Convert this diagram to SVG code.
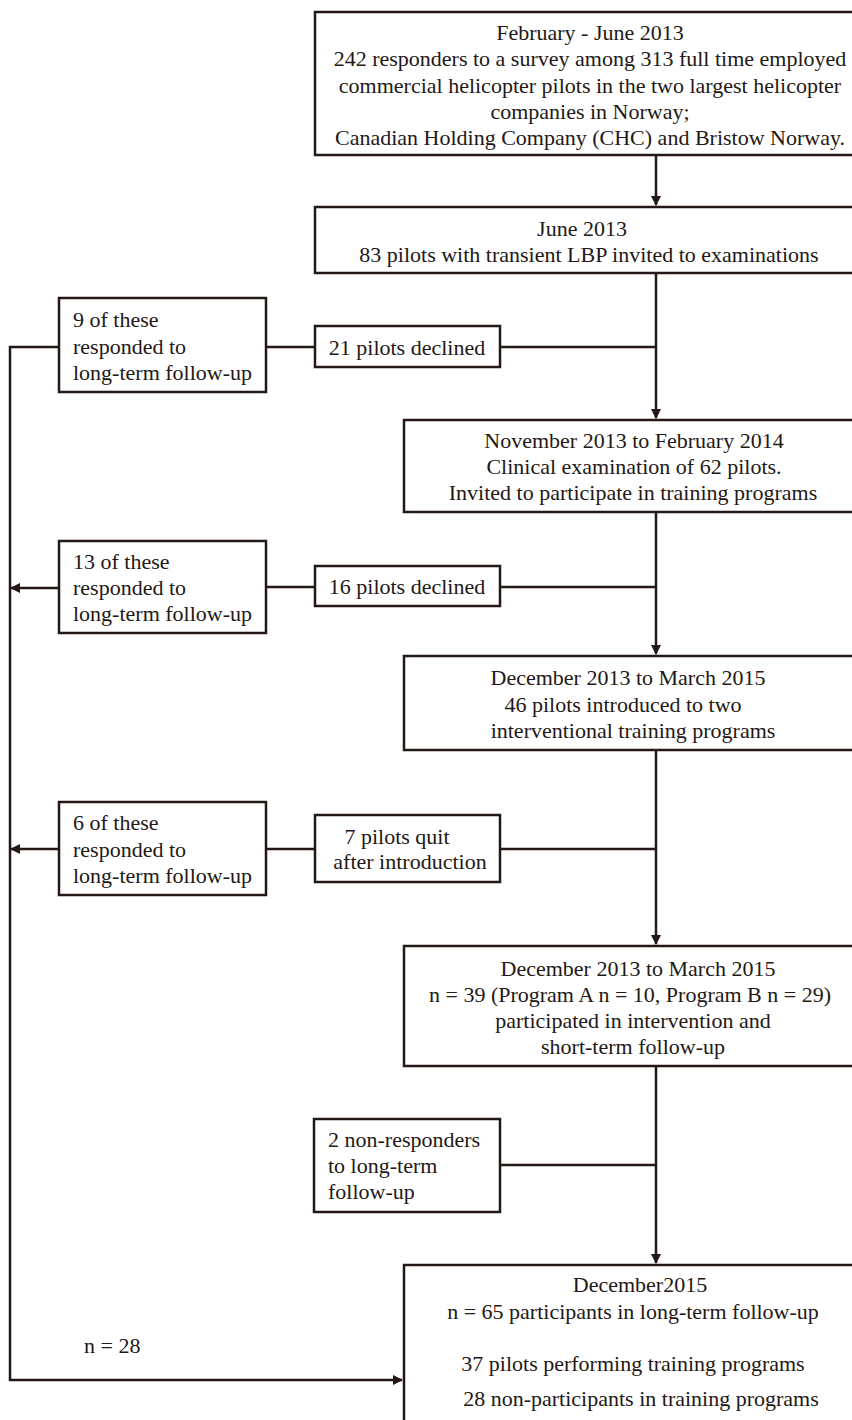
<svg xmlns="http://www.w3.org/2000/svg" width="852" height="1420" viewBox="0 0 852 1420">
<style>
.b{fill:#fff;stroke:#231815;stroke-width:2.5}
.c{fill:none;stroke:#231815;stroke-width:2.5}
text{font-family:"Liberation Serif","Times New Roman",serif;font-size:22px;fill:#231815}
.m{text-anchor:middle}
</style>
<defs>
<marker id="ah" markerWidth="10" markerHeight="10" refX="9" refY="5" orient="auto" markerUnits="userSpaceOnUse">
<path d="M0,0 L10,5 L0,10 Z" fill="#231815"/>
</marker>
</defs>
<rect width="852" height="1420" fill="#fff"/>
<g id="connectors">
<path class="c" d="M656,155 V205" marker-end="url(#ah)"/>
<path class="c" d="M656,273 V418" marker-end="url(#ah)"/>
<path class="c" d="M500,347 H656"/>
<path class="c" d="M266,347 H315"/>
<path class="c" d="M59,347 H10 V1380 H402" marker-end="url(#ah)"/>
<path class="c" d="M656,512 V654" marker-end="url(#ah)"/>
<path class="c" d="M500,587 H656"/>
<path class="c" d="M266,587 H315"/>
<path class="c" d="M59,588 H11" marker-end="url(#ah)"/>
<path class="c" d="M656,750 V944" marker-end="url(#ah)"/>
<path class="c" d="M500,849 H656"/>
<path class="c" d="M266,849 H315"/>
<path class="c" d="M59,849 H11" marker-end="url(#ah)"/>
<path class="c" d="M656,1066 V1263" marker-end="url(#ah)"/>
<path class="c" d="M500,1165 H656"/>
</g>
<g id="n1">
<rect class="b" x="315" y="12" width="560" height="143"/>
<text class="m" x="590" y="40">February - June 2013</text>
<text class="m" x="590" y="66">242 responders to a survey among 313 full time employed</text>
<text class="m" x="590" y="93">commercial helicopter pilots in the two largest helicopter</text>
<text class="m" x="590" y="119">companies in Norway;</text>
<text class="m" x="590" y="145">Canadian Holding Company (CHC) and Bristow Norway.</text>
</g>
<g id="n2">
<rect class="b" x="315" y="207" width="560" height="66"/>
<text class="m" x="582" y="236">June 2013</text>
<text class="m" x="589" y="262">83 pilots with transient LBP invited to examinations</text>
</g>
<g id="n3">
<rect class="b" x="59" y="298" width="207" height="94"/>
<text x="73" y="327">9 of these</text>
<text x="73" y="354">responded to</text>
<text x="73" y="380">long-term follow-up</text>
</g>
<g id="n4">
<rect class="b" x="315" y="326" width="185" height="41"/>
<text class="m" x="407" y="355">21 pilots declined</text>
</g>
<g id="n5">
<rect class="b" x="404" y="420" width="470" height="92"/>
<text class="m" x="634" y="448">November 2013 to February 2014</text>
<text class="m" x="634" y="474">Clinical examination of 62 pilots.</text>
<text class="m" x="633" y="500">Invited to participate in training programs</text>
</g>
<g id="n6">
<rect class="b" x="59" y="541" width="207" height="92"/>
<text x="73" y="569">13 of these</text>
<text x="73" y="595">responded to</text>
<text x="73" y="621">long-term follow-up</text>
</g>
<g id="n7">
<rect class="b" x="315" y="566" width="185" height="40"/>
<text class="m" x="407" y="594">16 pilots declined</text>
</g>
<g id="n8">
<rect class="b" x="404" y="656" width="470" height="94"/>
<text class="m" x="628" y="685">December 2013 to March 2015</text>
<text class="m" x="623" y="712">46 pilots introduced to two</text>
<text class="m" x="633" y="738">interventional training programs</text>
</g>
<g id="n9">
<rect class="b" x="59" y="802" width="207" height="93"/>
<text x="73" y="830">6 of these</text>
<text x="73" y="857">responded to</text>
<text x="73" y="883">long-term follow-up</text>
</g>
<g id="n10">
<rect class="b" x="315" y="815" width="185" height="67"/>
<text class="m" x="397" y="844">7 pilots quit</text>
<text class="m" x="410" y="869">after introduction</text>
</g>
<g id="n11">
<rect class="b" x="404" y="946" width="470" height="120"/>
<text class="m" x="638" y="976">December 2013 to March 2015</text>
<text class="m" x="630" y="1002">n = 39 (Program A n = 10, Program B n = 29)</text>
<text class="m" x="633" y="1028">participated in intervention and</text>
<text class="m" x="633" y="1054">short-term follow-up</text>
</g>
<g id="n12">
<rect class="b" x="314" y="1119" width="186" height="93"/>
<text x="328" y="1147">2 non-responders</text>
<text x="328" y="1173">to long-term</text>
<text x="328" y="1199">follow-up</text>
</g>
<g id="n13">
<rect class="b" x="404" y="1265" width="470" height="170"/>
<text class="m" x="640" y="1292">December2015</text>
<text class="m" x="633" y="1319">n = 65 participants in long-term follow-up</text>
<text class="m" x="633" y="1371">37 pilots performing training programs</text>
<text class="m" x="641" y="1406">28 non-participants in training programs</text>
</g>
<text x="84" y="1353">n = 28</text>
</svg>
